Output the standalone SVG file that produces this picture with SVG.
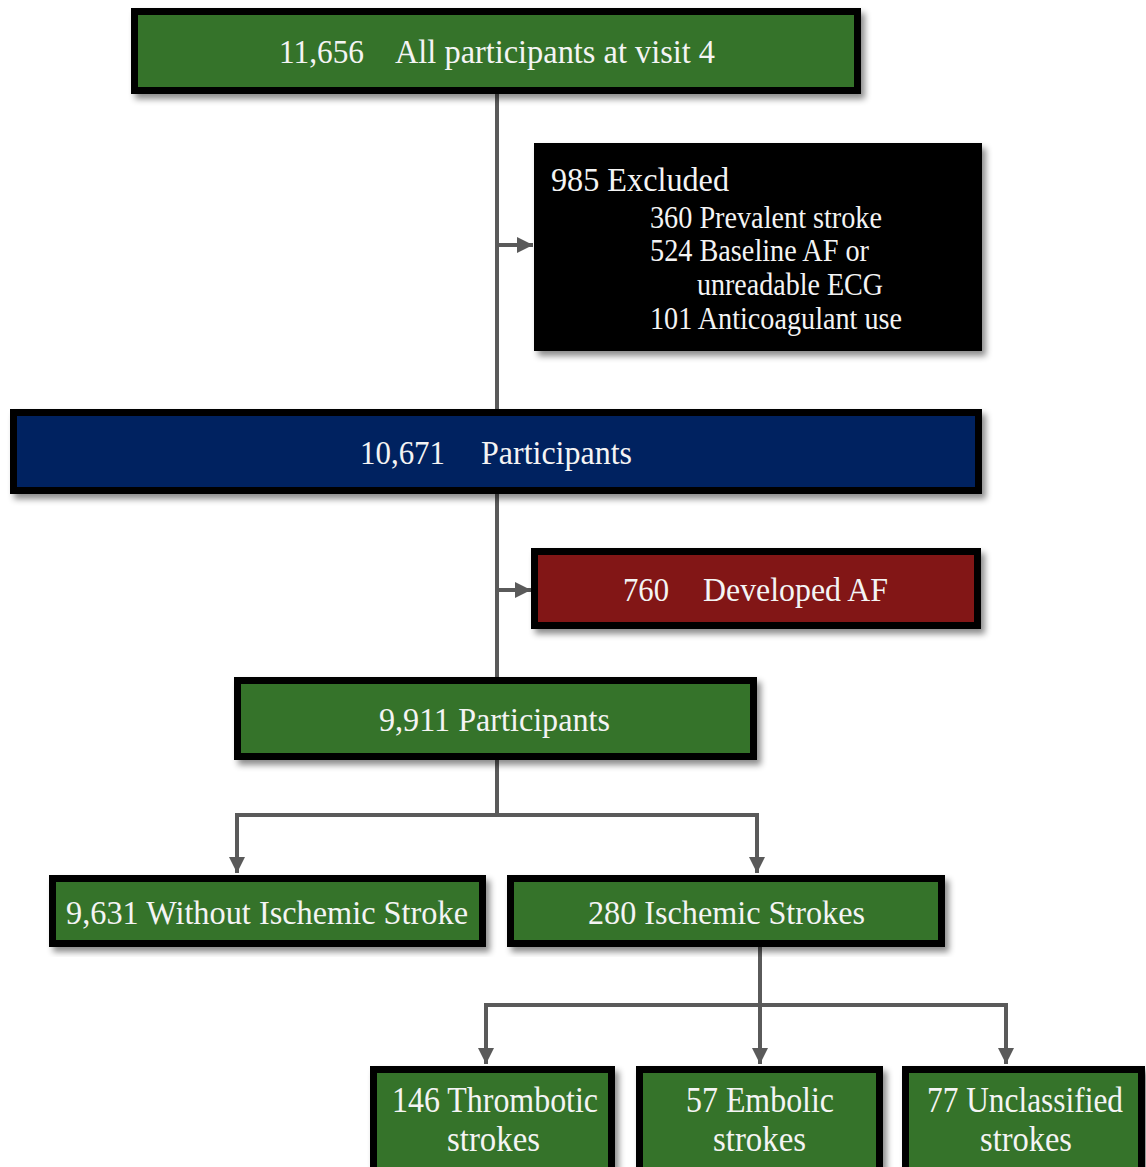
<svg xmlns="http://www.w3.org/2000/svg" width="1146" height="1167" viewBox="0 0 1146 1167">
<style>
.box{stroke:#000;stroke-width:7;filter:url(#sh)}
.g{fill:#35732a}
.b{fill:#002060}
.r{fill:#821913}
.k{fill:#000;stroke:none;filter:url(#sh)}
.t{fill:#f4f4f4;font-size:34px}
.s{font-size:31px}
.l{font-size:36px}
.c{fill:none;stroke:#5a5a5a;stroke-width:4}
</style>
<defs>
<filter id="sh" x="-5%" y="-10%" width="115%" height="130%">
<feDropShadow dx="4" dy="5" stdDeviation="3" flood-color="#000" flood-opacity="0.45"/>
</filter>
<marker id="ah" markerUnits="userSpaceOnUse" markerWidth="16" markerHeight="16" refX="14" refY="7" orient="auto" viewBox="0 0 14 14">
<path d="M0,0 L14,7 L0,14 z" fill="#5a5a5a"/>
</marker>
</defs>
<rect width="1146" height="1167" fill="#fff"/>
<g id="connectors">
<path class="c" d="M497,94 V409"/>
<path class="c" d="M497,245 H533" marker-end="url(#ah)"/>
<path class="c" d="M497,494 V677"/>
<path class="c" d="M497,590 H531" marker-end="url(#ah)"/>
<path class="c" d="M497,760 V815"/>
<path class="c" d="M497,815 H237 V873" marker-end="url(#ah)"/>
<path class="c" d="M497,815 H757 V873" marker-end="url(#ah)"/>
<path class="c" d="M760,947 V1064" marker-end="url(#ah)"/>
<path class="c" d="M760,1005 H486 V1064" marker-end="url(#ah)"/>
<path class="c" d="M760,1005 H1006 V1064" marker-end="url(#ah)"/>
</g>
<g font-family="Liberation Serif, Times New Roman, serif">
<g id="n1">
<rect class="box g" x="134.5" y="11.5" width="723" height="79"/>
<text class="t" y="63"><tspan x="279" textLength="85" lengthAdjust="spacingAndGlyphs">11,656</tspan><tspan x="395" textLength="320" lengthAdjust="spacingAndGlyphs">All participants at visit 4</tspan></text>
</g>
<g id="excluded">
<rect class="k" x="534" y="143" width="448" height="208"/>
<text class="t" x="551" y="191" textLength="178" lengthAdjust="spacingAndGlyphs">985 Excluded</text>
<text class="t s" x="650" y="228" textLength="232" lengthAdjust="spacingAndGlyphs">360 Prevalent stroke</text>
<text class="t s" x="650" y="261" textLength="219" lengthAdjust="spacingAndGlyphs">524 Baseline AF or</text>
<text class="t s" x="697" y="295" textLength="186" lengthAdjust="spacingAndGlyphs">unreadable ECG</text>
<text class="t s" x="650" y="329" textLength="252" lengthAdjust="spacingAndGlyphs">101 Anticoagulant use</text>
</g>
<g id="n2">
<rect class="box b" x="13.5" y="412.5" width="965" height="78"/>
<text class="t" y="464"><tspan x="360" textLength="85" lengthAdjust="spacingAndGlyphs">10,671</tspan><tspan x="481" textLength="151" lengthAdjust="spacingAndGlyphs">Participants</tspan></text>
</g>
<g id="af">
<rect class="box r" x="534.5" y="551.5" width="443" height="74"/>
<text class="t" y="601"><tspan x="623" textLength="46" lengthAdjust="spacingAndGlyphs">760</tspan><tspan x="703" textLength="185" lengthAdjust="spacingAndGlyphs">Developed AF</tspan></text>
</g>
<g id="n3">
<rect class="box g" x="237.5" y="680.5" width="516" height="76"/>
<text class="t" x="379" y="731" textLength="231" lengthAdjust="spacingAndGlyphs">9,911 Participants</text>
</g>
<g id="n4">
<rect class="box g" x="52.5" y="878.5" width="430" height="65"/>
<text class="t" x="66" y="924" textLength="402" lengthAdjust="spacingAndGlyphs">9,631 Without Ischemic Stroke</text>
</g>
<g id="n5">
<rect class="box g" x="510.5" y="878.5" width="431" height="65"/>
<text class="t" x="588" y="924" textLength="277" lengthAdjust="spacingAndGlyphs">280 Ischemic Strokes</text>
</g>
<g id="n6">
<rect class="box g" x="373.5" y="1069.5" width="238" height="110"/>
<text class="t l" x="392" y="1112" textLength="206" lengthAdjust="spacingAndGlyphs">146 Thrombotic</text>
<text class="t l" x="447" y="1151" textLength="93" lengthAdjust="spacingAndGlyphs">strokes</text>
</g>
<g id="n7">
<rect class="box g" x="639.5" y="1069.5" width="240" height="110"/>
<text class="t l" x="686" y="1112" textLength="148" lengthAdjust="spacingAndGlyphs">57 Embolic</text>
<text class="t l" x="713" y="1151" textLength="93" lengthAdjust="spacingAndGlyphs">strokes</text>
</g>
<g id="n8">
<rect class="box g" x="905.5" y="1069.5" width="236" height="110"/>
<text class="t l" x="927" y="1112" textLength="196" lengthAdjust="spacingAndGlyphs">77 Unclassified</text>
<text class="t l" x="980" y="1151" textLength="92" lengthAdjust="spacingAndGlyphs">strokes</text>
</g>
</g>
</svg>
